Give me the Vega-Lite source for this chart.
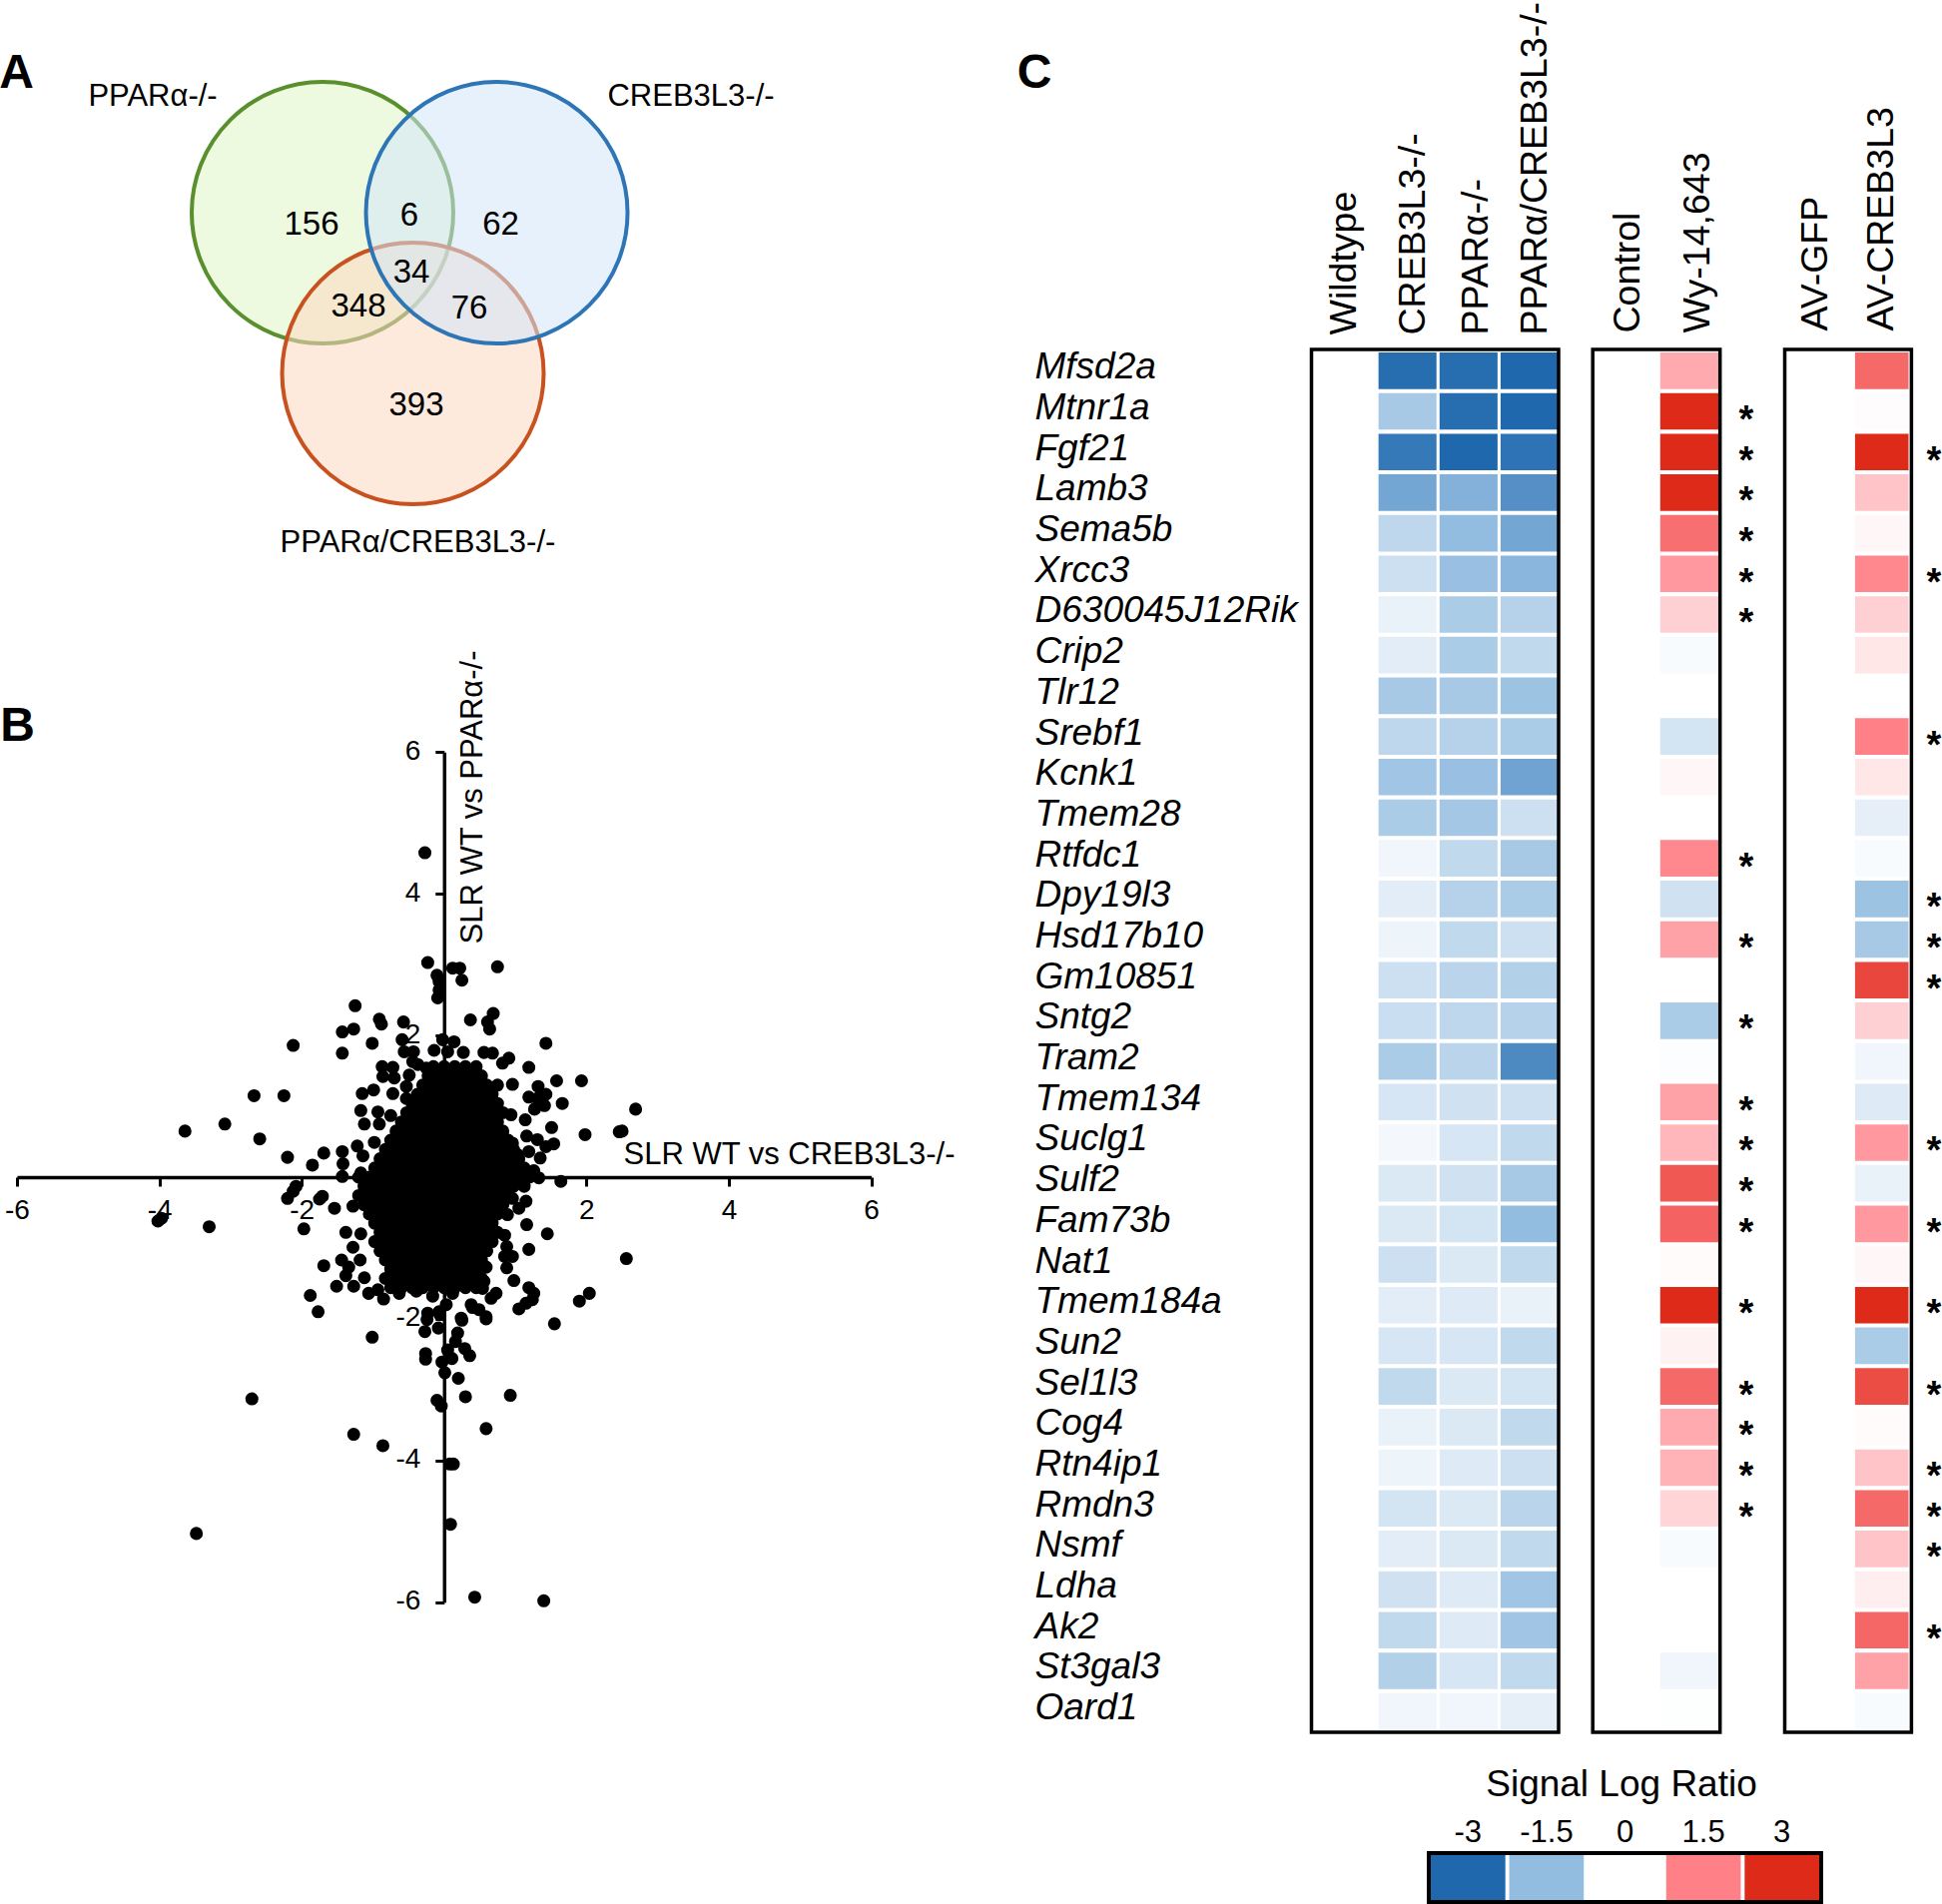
{"$schema":"https://vega.github.io/schema/vega-lite/v6.json","width":1945,"height":1907,"padding":0,"autosize":"none","background":"#ffffff","config":{"view":{"stroke":null},"font":"Liberation Sans","axis":{"grid":false,"labelColor":"#000000","titleColor":"#000000"}},
"datasets":{
"venn":[{"set":"PPARα-/-","cx":40.375,"cy":35.5},{"set":"PPARα/CREB3L3-/-","cx":51.69,"cy":62.33},{"set":"CREB3L3-/-","cx":62.19,"cy":35.5}],
"vennText":[{"t":"156","u":39,"v":37.5},{"t":"6","u":51.25,"v":36},{"t":"62","u":62.69,"v":37.5},{"t":"34","u":51.5,"v":45.5},{"t":"348","u":44.88,"v":51.17},{"t":"76","u":58.75,"v":51.5},{"t":"393","u":52.13,"v":67.67}],
"vennNames":[{"t":"PPARα-/-","u":19.13,"v":16.15},{"t":"CREB3L3-/-","u":86.5,"v":16.15},{"t":"PPARα/CREB3L3-/-","u":52.31,"v":90.7}],
"letters":[{"t":"A","u":0.85,"v":3.9},{"t":"B","u":0.9,"v":38.15},{"t":"C","u":53.27,"v":3.9}],
"scatter":[
{"creb":-0.15,"ppar":1.56},{"creb":0,"ppar":1.56},{"creb":0.15,"ppar":1.56},{"creb":0.3,"ppar":1.56},{"creb":0.45,"ppar":1.56},
{"creb":-0.225,"ppar":1.43},{"creb":-0.075,"ppar":1.43},{"creb":0.075,"ppar":1.43},{"creb":0.225,"ppar":1.43},{"creb":0.375,"ppar":1.43},{"creb":0.525,"ppar":1.43},
{"creb":-0.3,"ppar":1.3},{"creb":-0.15,"ppar":1.3},{"creb":0,"ppar":1.3},{"creb":0.15,"ppar":1.3},{"creb":0.3,"ppar":1.3},{"creb":0.45,"ppar":1.3},{"creb":0.6,"ppar":1.3},{"creb":0.75,"ppar":1.3},
{"creb":-0.375,"ppar":1.17},{"creb":-0.225,"ppar":1.17},{"creb":-0.075,"ppar":1.17},{"creb":0.075,"ppar":1.17},{"creb":0.225,"ppar":1.17},{"creb":0.375,"ppar":1.17},{"creb":0.525,"ppar":1.17},{"creb":0.675,"ppar":1.17},
{"creb":-0.45,"ppar":1.04},{"creb":-0.3,"ppar":1.04},{"creb":-0.15,"ppar":1.04},{"creb":0,"ppar":1.04},{"creb":0.15,"ppar":1.04},{"creb":0.3,"ppar":1.04},{"creb":0.45,"ppar":1.04},{"creb":0.6,"ppar":1.04},{"creb":0.75,"ppar":1.04},
{"creb":-0.525,"ppar":0.91},{"creb":-0.375,"ppar":0.91},{"creb":-0.225,"ppar":0.91},{"creb":-0.075,"ppar":0.91},{"creb":0.075,"ppar":0.91},{"creb":0.225,"ppar":0.91},{"creb":0.375,"ppar":0.91},{"creb":0.525,"ppar":0.91},{"creb":0.675,"ppar":0.91},{"creb":0.825,"ppar":0.91},
{"creb":-0.6,"ppar":0.78},{"creb":-0.45,"ppar":0.78},{"creb":-0.3,"ppar":0.78},{"creb":-0.15,"ppar":0.78},{"creb":0,"ppar":0.78},{"creb":0.15,"ppar":0.78},{"creb":0.3,"ppar":0.78},{"creb":0.45,"ppar":0.78},{"creb":0.6,"ppar":0.78},{"creb":0.75,"ppar":0.78},
{"creb":-0.675,"ppar":0.65},{"creb":-0.525,"ppar":0.65},{"creb":-0.375,"ppar":0.65},{"creb":-0.225,"ppar":0.65},{"creb":-0.075,"ppar":0.65},{"creb":0.075,"ppar":0.65},{"creb":0.225,"ppar":0.65},{"creb":0.375,"ppar":0.65},{"creb":0.525,"ppar":0.65},{"creb":0.675,"ppar":0.65},{"creb":0.825,"ppar":0.65},
{"creb":-0.75,"ppar":0.52},{"creb":-0.6,"ppar":0.52},{"creb":-0.45,"ppar":0.52},{"creb":-0.3,"ppar":0.52},{"creb":-0.15,"ppar":0.52},{"creb":0,"ppar":0.52},{"creb":0.15,"ppar":0.52},{"creb":0.3,"ppar":0.52},{"creb":0.45,"ppar":0.52},{"creb":0.6,"ppar":0.52},{"creb":0.75,"ppar":0.52},{"creb":0.9,"ppar":0.52},
{"creb":-0.825,"ppar":0.39},{"creb":-0.675,"ppar":0.39},{"creb":-0.525,"ppar":0.39},{"creb":-0.375,"ppar":0.39},{"creb":-0.225,"ppar":0.39},{"creb":-0.075,"ppar":0.39},{"creb":0.075,"ppar":0.39},{"creb":0.225,"ppar":0.39},{"creb":0.375,"ppar":0.39},{"creb":0.525,"ppar":0.39},{"creb":0.675,"ppar":0.39},{"creb":0.825,"ppar":0.39},{"creb":0.975,"ppar":0.39},
{"creb":-0.9,"ppar":0.26},{"creb":-0.75,"ppar":0.26},{"creb":-0.6,"ppar":0.26},{"creb":-0.45,"ppar":0.26},{"creb":-0.3,"ppar":0.26},{"creb":-0.15,"ppar":0.26},{"creb":0,"ppar":0.26},{"creb":0.15,"ppar":0.26},{"creb":0.3,"ppar":0.26},{"creb":0.45,"ppar":0.26},{"creb":0.6,"ppar":0.26},{"creb":0.75,"ppar":0.26},{"creb":0.9,"ppar":0.26},{"creb":1.05,"ppar":0.26},
{"creb":-0.975,"ppar":0.13},{"creb":-0.825,"ppar":0.13},{"creb":-0.675,"ppar":0.13},{"creb":-0.525,"ppar":0.13},{"creb":-0.375,"ppar":0.13},{"creb":-0.225,"ppar":0.13},{"creb":-0.075,"ppar":0.13},{"creb":0.075,"ppar":0.13},{"creb":0.225,"ppar":0.13},{"creb":0.375,"ppar":0.13},{"creb":0.525,"ppar":0.13},{"creb":0.675,"ppar":0.13},{"creb":0.825,"ppar":0.13},{"creb":0.975,"ppar":0.13},{"creb":1.125,"ppar":0.13},
{"creb":-1.2,"ppar":0},{"creb":-1.05,"ppar":0},{"creb":-0.9,"ppar":0},{"creb":-0.75,"ppar":0},{"creb":-0.6,"ppar":0},{"creb":-0.45,"ppar":0},{"creb":-0.3,"ppar":0},{"creb":-0.15,"ppar":0},{"creb":0,"ppar":0},{"creb":0.15,"ppar":0},{"creb":0.3,"ppar":0},{"creb":0.45,"ppar":0},{"creb":0.6,"ppar":0},{"creb":0.75,"ppar":0},{"creb":0.9,"ppar":0},{"creb":1.05,"ppar":0},{"creb":1.2,"ppar":0},
{"creb":-1.125,"ppar":-0.13},{"creb":-0.975,"ppar":-0.13},{"creb":-0.825,"ppar":-0.13},{"creb":-0.675,"ppar":-0.13},{"creb":-0.525,"ppar":-0.13},{"creb":-0.375,"ppar":-0.13},{"creb":-0.225,"ppar":-0.13},{"creb":-0.075,"ppar":-0.13},{"creb":0.075,"ppar":-0.13},{"creb":0.225,"ppar":-0.13},{"creb":0.375,"ppar":-0.13},{"creb":0.525,"ppar":-0.13},{"creb":0.675,"ppar":-0.13},{"creb":0.825,"ppar":-0.13},{"creb":0.975,"ppar":-0.13},{"creb":1.125,"ppar":-0.13},
{"creb":-1.2,"ppar":-0.26},{"creb":-1.05,"ppar":-0.26},{"creb":-0.9,"ppar":-0.26},{"creb":-0.75,"ppar":-0.26},{"creb":-0.6,"ppar":-0.26},{"creb":-0.45,"ppar":-0.26},{"creb":-0.3,"ppar":-0.26},{"creb":-0.15,"ppar":-0.26},{"creb":0,"ppar":-0.26},{"creb":0.15,"ppar":-0.26},{"creb":0.3,"ppar":-0.26},{"creb":0.45,"ppar":-0.26},{"creb":0.6,"ppar":-0.26},{"creb":0.75,"ppar":-0.26},{"creb":0.9,"ppar":-0.26},
{"creb":-1.125,"ppar":-0.39},{"creb":-0.975,"ppar":-0.39},{"creb":-0.825,"ppar":-0.39},{"creb":-0.675,"ppar":-0.39},{"creb":-0.525,"ppar":-0.39},{"creb":-0.375,"ppar":-0.39},{"creb":-0.225,"ppar":-0.39},{"creb":-0.075,"ppar":-0.39},{"creb":0.075,"ppar":-0.39},{"creb":0.225,"ppar":-0.39},{"creb":0.375,"ppar":-0.39},{"creb":0.525,"ppar":-0.39},{"creb":0.675,"ppar":-0.39},{"creb":0.825,"ppar":-0.39},
{"creb":-1.05,"ppar":-0.52},{"creb":-0.9,"ppar":-0.52},{"creb":-0.75,"ppar":-0.52},{"creb":-0.6,"ppar":-0.52},{"creb":-0.45,"ppar":-0.52},{"creb":-0.3,"ppar":-0.52},{"creb":-0.15,"ppar":-0.52},{"creb":0,"ppar":-0.52},{"creb":0.15,"ppar":-0.52},{"creb":0.3,"ppar":-0.52},{"creb":0.45,"ppar":-0.52},{"creb":0.6,"ppar":-0.52},{"creb":0.75,"ppar":-0.52},
{"creb":-0.975,"ppar":-0.65},{"creb":-0.825,"ppar":-0.65},{"creb":-0.675,"ppar":-0.65},{"creb":-0.525,"ppar":-0.65},{"creb":-0.375,"ppar":-0.65},{"creb":-0.225,"ppar":-0.65},{"creb":-0.075,"ppar":-0.65},{"creb":0.075,"ppar":-0.65},{"creb":0.225,"ppar":-0.65},{"creb":0.375,"ppar":-0.65},{"creb":0.525,"ppar":-0.65},{"creb":0.675,"ppar":-0.65},
{"creb":-0.9,"ppar":-0.78},{"creb":-0.75,"ppar":-0.78},{"creb":-0.6,"ppar":-0.78},{"creb":-0.45,"ppar":-0.78},{"creb":-0.3,"ppar":-0.78},{"creb":-0.15,"ppar":-0.78},{"creb":0,"ppar":-0.78},{"creb":0.15,"ppar":-0.78},{"creb":0.3,"ppar":-0.78},{"creb":0.45,"ppar":-0.78},{"creb":0.6,"ppar":-0.78},{"creb":0.75,"ppar":-0.78},
{"creb":-0.975,"ppar":-0.91},{"creb":-0.825,"ppar":-0.91},{"creb":-0.675,"ppar":-0.91},{"creb":-0.525,"ppar":-0.91},{"creb":-0.375,"ppar":-0.91},{"creb":-0.225,"ppar":-0.91},{"creb":-0.075,"ppar":-0.91},{"creb":0.075,"ppar":-0.91},{"creb":0.225,"ppar":-0.91},{"creb":0.375,"ppar":-0.91},{"creb":0.525,"ppar":-0.91},{"creb":0.675,"ppar":-0.91},
{"creb":-0.9,"ppar":-1.04},{"creb":-0.75,"ppar":-1.04},{"creb":-0.6,"ppar":-1.04},{"creb":-0.45,"ppar":-1.04},{"creb":-0.3,"ppar":-1.04},{"creb":-0.15,"ppar":-1.04},{"creb":0,"ppar":-1.04},{"creb":0.15,"ppar":-1.04},{"creb":0.3,"ppar":-1.04},{"creb":0.45,"ppar":-1.04},{"creb":0.6,"ppar":-1.04},
{"creb":-0.825,"ppar":-1.17},{"creb":-0.675,"ppar":-1.17},{"creb":-0.525,"ppar":-1.17},{"creb":-0.375,"ppar":-1.17},{"creb":-0.225,"ppar":-1.17},{"creb":-0.075,"ppar":-1.17},{"creb":0.075,"ppar":-1.17},{"creb":0.225,"ppar":-1.17},{"creb":0.375,"ppar":-1.17},{"creb":0.525,"ppar":-1.17},
{"creb":-0.75,"ppar":-1.3},{"creb":-0.6,"ppar":-1.3},{"creb":-0.45,"ppar":-1.3},{"creb":-0.3,"ppar":-1.3},{"creb":-0.15,"ppar":-1.3},{"creb":0,"ppar":-1.3},{"creb":0.15,"ppar":-1.3},{"creb":0.3,"ppar":-1.3},{"creb":0.45,"ppar":-1.3},
{"creb":-0.825,"ppar":-1.43},{"creb":-0.675,"ppar":-1.43},{"creb":-0.525,"ppar":-1.43},{"creb":-0.375,"ppar":-1.43},{"creb":-0.225,"ppar":-1.43},{"creb":-0.075,"ppar":-1.43},{"creb":0.075,"ppar":-1.43},{"creb":0.225,"ppar":-1.43},{"creb":0.375,"ppar":-1.43},{"creb":0.525,"ppar":-1.43},
{"creb":-0.75,"ppar":-1.56},{"creb":-0.6,"ppar":-1.56},{"creb":-0.45,"ppar":-1.56},{"creb":-0.3,"ppar":-1.56},{"creb":-0.15,"ppar":-1.56},{"creb":0,"ppar":-1.56},{"creb":0.15,"ppar":-1.56},{"creb":0.3,"ppar":-1.56},{"creb":0.45,"ppar":-1.56},
{"creb":-1.25,"ppar":2.42},{"creb":-0.91,"ppar":2.23},{"creb":-0.88,"ppar":2.16},{"creb":-1.27,"ppar":2.09},{"creb":-1.43,"ppar":2.05},{"creb":-1.43,"ppar":1.75},{"creb":-1.01,"ppar":1.89},{"creb":-0.57,"ppar":2.19},{"creb":-0.59,"ppar":1.94},{"creb":-0.56,"ppar":1.77},{"creb":-0.43,"ppar":1.77},{"creb":-0.44,"ppar":1.63},{"creb":-0.37,"ppar":1.59},{"creb":-0.25,"ppar":1.54},{"creb":-0.87,"ppar":1.56},{"creb":-0.72,"ppar":1.55},{"creb":-0.86,"ppar":1.42},{"creb":-0.7,"ppar":1.4},{"creb":-0.49,"ppar":1.44},{"creb":-0.53,"ppar":1.28},{"creb":-0.99,"ppar":1.23},{"creb":-1.15,"ppar":1.18},{"creb":-0.72,"ppar":1.18},{"creb":-0.53,"ppar":1.11},{"creb":-1.17,"ppar":0.94},{"creb":-0.93,"ppar":0.92},{"creb":-0.75,"ppar":0.87},{"creb":-1.12,"ppar":0.75},{"creb":-0.91,"ppar":0.75},{"creb":-1.22,"ppar":0.44},{"creb":-0.98,"ppar":0.49},{"creb":-1.69,"ppar":0.34},{"creb":-1.43,"ppar":0.36},{"creb":-1.85,"ppar":0.17},{"creb":-1.42,"ppar":0.19},{"creb":-1.14,"ppar":0.3},{"creb":-1.43,"ppar":0.01},{"creb":-1.17,"ppar":0.06},{"creb":-1.75,"ppar":-0.31},{"creb":-1.71,"ppar":-0.27},{"creb":-1.54,"ppar":-0.44},{"creb":-1.28,"ppar":-0.41},{"creb":-1.97,"ppar":-0.73},{"creb":-1.38,"ppar":-0.78},{"creb":-1.17,"ppar":-0.8},{"creb":-1.28,"ppar":-0.99},{"creb":-1.44,"ppar":-1.17},{"creb":-1.34,"ppar":-1.27},{"creb":-1.18,"ppar":-1.17},{"creb":-1.69,"ppar":-1.25},{"creb":-1.38,"ppar":-1.39},{"creb":-1.12,"ppar":-1.42},{"creb":-1.51,"ppar":-1.54},{"creb":-1.27,"ppar":-1.54},{"creb":-1.88,"ppar":-1.67},{"creb":-1.77,"ppar":-1.9},{"creb":-1.06,"ppar":-1.64},{"creb":-0.85,"ppar":-1.72},{"creb":-0.63,"ppar":-1.64},{"creb":-0.93,"ppar":-1.59},
{"creb":-0.09,"ppar":2.53},{"creb":0.37,"ppar":2.22},{"creb":0.69,"ppar":2.31},{"creb":0.61,"ppar":2.19},{"creb":0.64,"ppar":2.09},{"creb":1.43,"ppar":1.89},{"creb":-0.02,"ppar":1.94},{"creb":0.14,"ppar":1.91},{"creb":-0.14,"ppar":1.79},{"creb":0.05,"ppar":1.77},{"creb":0.27,"ppar":1.76},{"creb":0.56,"ppar":1.76},{"creb":0.68,"ppar":1.75},{"creb":0.82,"ppar":1.61},{"creb":0.91,"ppar":1.68},{"creb":1.19,"ppar":1.55},{"creb":1.58,"ppar":1.36},{"creb":1.93,"ppar":1.36},{"creb":0.96,"ppar":1.31},{"creb":1.32,"ppar":1.28},{"creb":1.43,"ppar":1.17},{"creb":1.19,"ppar":1.13},{"creb":1.31,"ppar":1.11},{"creb":1.41,"ppar":1.01},{"creb":1.27,"ppar":0.96},{"creb":1.66,"ppar":1.04},{"creb":0.94,"ppar":0.88},{"creb":1.14,"ppar":0.81},{"creb":1.51,"ppar":0.7},{"creb":1.98,"ppar":0.6},{"creb":2.46,"ppar":0.64},{"creb":1.16,"ppar":0.58},{"creb":1.31,"ppar":0.53},{"creb":1.54,"ppar":0.47},{"creb":1.43,"ppar":0.43},{"creb":1.35,"ppar":0.27},{"creb":1.19,"ppar":0.36},{"creb":1.03,"ppar":0.32},{"creb":0.96,"ppar":0.48},{"creb":1.26,"ppar":0.09},{"creb":1.33,"ppar":-0.01},{"creb":1.64,"ppar":-0.06},{"creb":1,"ppar":-0.04},{"creb":1.15,"ppar":0.08},{"creb":1.15,"ppar":-0.34},{"creb":1.05,"ppar":-0.44},{"creb":0.96,"ppar":-0.3},{"creb":0.89,"ppar":-0.53},{"creb":1.16,"ppar":-0.67},{"creb":1.45,"ppar":-0.8},{"creb":1.19,"ppar":-1.02},{"creb":0.85,"ppar":-0.82},{"creb":0.88,"ppar":-0.98},{"creb":0.96,"ppar":-1.12},{"creb":0.85,"ppar":-1.12},{"creb":0.88,"ppar":-1.28},{"creb":0.59,"ppar":-1.27},{"creb":0.98,"ppar":-1.46},{"creb":0.56,"ppar":-1.47},{"creb":1.19,"ppar":-1.56},{"creb":1.26,"ppar":-1.64},{"creb":1.24,"ppar":-1.73},{"creb":1.15,"ppar":-1.78},{"creb":1.05,"ppar":-1.86},{"creb":2.04,"ppar":-1.64},{"creb":1.9,"ppar":-1.75},{"creb":0.73,"ppar":-1.64},{"creb":0.66,"ppar":-1.71},{"creb":0.54,"ppar":-1.57},{"creb":0.38,"ppar":-1.8},{"creb":0.49,"ppar":-1.87},{"creb":0.59,"ppar":-1.97},{"creb":0.03,"ppar":-1.8},{"creb":-0.07,"ppar":-1.9},{"creb":-0.23,"ppar":-1.92},{"creb":0.24,"ppar":-1.99},{"creb":-0.39,"ppar":-1.61},{"creb":-0.16,"ppar":-1.68},{"creb":0.12,"ppar":-1.64},
{"creb":-0.27,"ppar":-2.18},{"creb":-0.24,"ppar":-2.01},{"creb":-0.08,"ppar":-2.13},{"creb":-0.06,"ppar":-1.94},{"creb":0.25,"ppar":-2.02},{"creb":0.4,"ppar":-1.84},{"creb":0.59,"ppar":-2},{"creb":1.55,"ppar":-2.07},{"creb":-1.01,"ppar":-2.26},{"creb":0.19,"ppar":-2.2},{"creb":0.16,"ppar":-2.32},{"creb":0.29,"ppar":-2.42},{"creb":0.36,"ppar":-2.52},{"creb":0.05,"ppar":-2.44},{"creb":-0.03,"ppar":-2.61},{"creb":-0.26,"ppar":-2.49},{"creb":-0.26,"ppar":-2.57},{"creb":0.11,"ppar":-2.56},{"creb":0.01,"ppar":-2.76},{"creb":0.2,"ppar":-2.84},{"creb":-0.1,"ppar":-3.15},{"creb":-0.04,"ppar":-3.23},{"creb":0.3,"ppar":-3.1},{"creb":0.93,"ppar":-3.08},{"creb":0.59,"ppar":-3.55},{"creb":-2.7,"ppar":-3.13},{"creb":-1.27,"ppar":-3.63},{"creb":-0.86,"ppar":-3.79},{"creb":0.08,"ppar":-4.05},{"creb":0.13,"ppar":-4.05},{"creb":0.09,"ppar":-4.9},{"creb":-3.48,"ppar":-5.03},{"creb":0.43,"ppar":-5.93},{"creb":1.4,"ppar":-5.98},{"creb":-3.97,"ppar":-0.58},{"creb":-4.02,"ppar":-0.62},{"creb":-3.3,"ppar":-0.7},{"creb":-2.2,"ppar":-0.3},{"creb":-2.08,"ppar":-0.13},{"creb":-2.12,"ppar":-0.2},{"creb":-2.2,"ppar":0.28},{"creb":-2.59,"ppar":0.54},{"creb":-3.08,"ppar":0.75},{"creb":-3.64,"ppar":0.65},{"creb":2.56,"ppar":-1.15},{"creb":2.69,"ppar":0.96},{"creb":2.5,"ppar":0.65},
{"creb":-0.27,"ppar":4.58},{"creb":-0.23,"ppar":3.03},{"creb":0.75,"ppar":2.97},{"creb":0.12,"ppar":2.95},{"creb":0.22,"ppar":2.95},{"creb":-0.1,"ppar":2.85},{"creb":-0.07,"ppar":2.76},{"creb":0.25,"ppar":2.78},{"creb":-0.07,"ppar":2.64},{"creb":-2.12,"ppar":1.86},{"creb":-2.67,"ppar":1.15},{"creb":-2.25,"ppar":1.15}],
"cells":[
{"gene":"Mfsd2a","sample":"CREB3L3-/-","slr":-2.9},{"gene":"Mfsd2a","sample":"PPARα-/-","slr":-2.9},{"gene":"Mfsd2a","sample":"PPARα/CREB3L3-/-","slr":-3},{"gene":"Mfsd2a","sample":"Wy-14,643","slr":1},{"gene":"Mfsd2a","sample":"AV-CREB3L3","slr":1.9},
{"gene":"Mtnr1a","sample":"CREB3L3-/-","slr":-1.2},{"gene":"Mtnr1a","sample":"PPARα-/-","slr":-2.9},{"gene":"Mtnr1a","sample":"PPARα/CREB3L3-/-","slr":-3},{"gene":"Mtnr1a","sample":"Wy-14,643","slr":3},{"gene":"Mtnr1a","sample":"AV-CREB3L3","slr":0.03},
{"gene":"Fgf21","sample":"CREB3L3-/-","slr":-2.7},{"gene":"Fgf21","sample":"PPARα-/-","slr":-3},{"gene":"Fgf21","sample":"PPARα/CREB3L3-/-","slr":-2.8},{"gene":"Fgf21","sample":"Wy-14,643","slr":3},{"gene":"Fgf21","sample":"AV-CREB3L3","slr":3},
{"gene":"Lamb3","sample":"CREB3L3-/-","slr":-1.9},{"gene":"Lamb3","sample":"PPARα-/-","slr":-1.7},{"gene":"Lamb3","sample":"PPARα/CREB3L3-/-","slr":-2.3},{"gene":"Lamb3","sample":"Wy-14,643","slr":3},{"gene":"Lamb3","sample":"AV-CREB3L3","slr":0.7},
{"gene":"Sema5b","sample":"CREB3L3-/-","slr":-0.9},{"gene":"Sema5b","sample":"PPARα-/-","slr":-1.5},{"gene":"Sema5b","sample":"PPARα/CREB3L3-/-","slr":-1.9},{"gene":"Sema5b","sample":"Wy-14,643","slr":1.8},{"gene":"Sema5b","sample":"AV-CREB3L3","slr":0.1},
{"gene":"Xrcc3","sample":"CREB3L3-/-","slr":-0.7},{"gene":"Xrcc3","sample":"PPARα-/-","slr":-1.4},{"gene":"Xrcc3","sample":"PPARα/CREB3L3-/-","slr":-1.6},{"gene":"Xrcc3","sample":"Wy-14,643","slr":1.2},{"gene":"Xrcc3","sample":"AV-CREB3L3","slr":1.4},
{"gene":"D630045J12Rik","sample":"CREB3L3-/-","slr":-0.3},{"gene":"D630045J12Rik","sample":"PPARα-/-","slr":-1.15},{"gene":"D630045J12Rik","sample":"PPARα/CREB3L3-/-","slr":-1},{"gene":"D630045J12Rik","sample":"Wy-14,643","slr":0.55},{"gene":"D630045J12Rik","sample":"AV-CREB3L3","slr":0.55},
{"gene":"Crip2","sample":"CREB3L3-/-","slr":-0.4},{"gene":"Crip2","sample":"PPARα-/-","slr":-1.15},{"gene":"Crip2","sample":"PPARα/CREB3L3-/-","slr":-0.85},{"gene":"Crip2","sample":"Wy-14,643","slr":-0.1},{"gene":"Crip2","sample":"AV-CREB3L3","slr":0.3},
{"gene":"Tlr12","sample":"CREB3L3-/-","slr":-1.2},{"gene":"Tlr12","sample":"PPARα-/-","slr":-1.2},{"gene":"Tlr12","sample":"PPARα/CREB3L3-/-","slr":-1.35},{"gene":"Tlr12","sample":"Wy-14,643","slr":0},{"gene":"Tlr12","sample":"AV-CREB3L3","slr":0},
{"gene":"Srebf1","sample":"CREB3L3-/-","slr":-0.9},{"gene":"Srebf1","sample":"PPARα-/-","slr":-1},{"gene":"Srebf1","sample":"PPARα/CREB3L3-/-","slr":-1.15},{"gene":"Srebf1","sample":"Wy-14,643","slr":-0.6},{"gene":"Srebf1","sample":"AV-CREB3L3","slr":1.5},
{"gene":"Kcnk1","sample":"CREB3L3-/-","slr":-1.3},{"gene":"Kcnk1","sample":"PPARα-/-","slr":-1.4},{"gene":"Kcnk1","sample":"PPARα/CREB3L3-/-","slr":-1.95},{"gene":"Kcnk1","sample":"Wy-14,643","slr":0.1},{"gene":"Kcnk1","sample":"AV-CREB3L3","slr":0.3},
{"gene":"Tmem28","sample":"CREB3L3-/-","slr":-1.15},{"gene":"Tmem28","sample":"PPARα-/-","slr":-1.25},{"gene":"Tmem28","sample":"PPARα/CREB3L3-/-","slr":-0.7},{"gene":"Tmem28","sample":"Wy-14,643","slr":0},{"gene":"Tmem28","sample":"AV-CREB3L3","slr":-0.35},
{"gene":"Rtfdc1","sample":"CREB3L3-/-","slr":-0.2},{"gene":"Rtfdc1","sample":"PPARα-/-","slr":-0.85},{"gene":"Rtfdc1","sample":"PPARα/CREB3L3-/-","slr":-1.2},{"gene":"Rtfdc1","sample":"Wy-14,643","slr":1.4},{"gene":"Rtfdc1","sample":"AV-CREB3L3","slr":-0.1},
{"gene":"Dpy19l3","sample":"CREB3L3-/-","slr":-0.4},{"gene":"Dpy19l3","sample":"PPARα-/-","slr":-1},{"gene":"Dpy19l3","sample":"PPARα/CREB3L3-/-","slr":-1.15},{"gene":"Dpy19l3","sample":"Wy-14,643","slr":-0.65},{"gene":"Dpy19l3","sample":"AV-CREB3L3","slr":-1.35},
{"gene":"Hsd17b10","sample":"CREB3L3-/-","slr":-0.25},{"gene":"Hsd17b10","sample":"PPARα-/-","slr":-0.85},{"gene":"Hsd17b10","sample":"PPARα/CREB3L3-/-","slr":-0.7},{"gene":"Hsd17b10","sample":"Wy-14,643","slr":1.1},{"gene":"Hsd17b10","sample":"AV-CREB3L3","slr":-1.2},
{"gene":"Gm10851","sample":"CREB3L3-/-","slr":-0.7},{"gene":"Gm10851","sample":"PPARα-/-","slr":-0.95},{"gene":"Gm10851","sample":"PPARα/CREB3L3-/-","slr":-1.05},{"gene":"Gm10851","sample":"Wy-14,643","slr":0},{"gene":"Gm10851","sample":"AV-CREB3L3","slr":2.5},
{"gene":"Sntg2","sample":"CREB3L3-/-","slr":-0.75},{"gene":"Sntg2","sample":"PPARα-/-","slr":-0.9},{"gene":"Sntg2","sample":"PPARα/CREB3L3-/-","slr":-1},{"gene":"Sntg2","sample":"Wy-14,643","slr":-1.15},{"gene":"Sntg2","sample":"AV-CREB3L3","slr":0.55},
{"gene":"Tram2","sample":"CREB3L3-/-","slr":-1.15},{"gene":"Tram2","sample":"PPARα-/-","slr":-0.95},{"gene":"Tram2","sample":"PPARα/CREB3L3-/-","slr":-2.4},{"gene":"Tram2","sample":"Wy-14,643","slr":-0.05},{"gene":"Tram2","sample":"AV-CREB3L3","slr":-0.2},
{"gene":"Tmem134","sample":"CREB3L3-/-","slr":-0.55},{"gene":"Tmem134","sample":"PPARα-/-","slr":-0.65},{"gene":"Tmem134","sample":"PPARα/CREB3L3-/-","slr":-0.7},{"gene":"Tmem134","sample":"Wy-14,643","slr":1.1},{"gene":"Tmem134","sample":"AV-CREB3L3","slr":-0.45},
{"gene":"Suclg1","sample":"CREB3L3-/-","slr":-0.15},{"gene":"Suclg1","sample":"PPARα-/-","slr":-0.55},{"gene":"Suclg1","sample":"PPARα/CREB3L3-/-","slr":-0.85},{"gene":"Suclg1","sample":"Wy-14,643","slr":0.85},{"gene":"Suclg1","sample":"AV-CREB3L3","slr":1.2},
{"gene":"Sulf2","sample":"CREB3L3-/-","slr":-0.5},{"gene":"Sulf2","sample":"PPARα-/-","slr":-0.65},{"gene":"Sulf2","sample":"PPARα/CREB3L3-/-","slr":-1.2},{"gene":"Sulf2","sample":"Wy-14,643","slr":2.2},{"gene":"Sulf2","sample":"AV-CREB3L3","slr":-0.3},
{"gene":"Fam73b","sample":"CREB3L3-/-","slr":-0.5},{"gene":"Fam73b","sample":"PPARα-/-","slr":-0.6},{"gene":"Fam73b","sample":"PPARα/CREB3L3-/-","slr":-1.5},{"gene":"Fam73b","sample":"Wy-14,643","slr":2},{"gene":"Fam73b","sample":"AV-CREB3L3","slr":1.2},
{"gene":"Nat1","sample":"CREB3L3-/-","slr":-0.7},{"gene":"Nat1","sample":"PPARα-/-","slr":-0.5},{"gene":"Nat1","sample":"PPARα/CREB3L3-/-","slr":-0.85},{"gene":"Nat1","sample":"Wy-14,643","slr":0.05},{"gene":"Nat1","sample":"AV-CREB3L3","slr":0.1},
{"gene":"Tmem184a","sample":"CREB3L3-/-","slr":-0.4},{"gene":"Tmem184a","sample":"PPARα-/-","slr":-0.45},{"gene":"Tmem184a","sample":"PPARα/CREB3L3-/-","slr":-0.3},{"gene":"Tmem184a","sample":"Wy-14,643","slr":3},{"gene":"Tmem184a","sample":"AV-CREB3L3","slr":3},
{"gene":"Sun2","sample":"CREB3L3-/-","slr":-0.55},{"gene":"Sun2","sample":"PPARα-/-","slr":-0.55},{"gene":"Sun2","sample":"PPARα/CREB3L3-/-","slr":-0.85},{"gene":"Sun2","sample":"Wy-14,643","slr":0.15},{"gene":"Sun2","sample":"AV-CREB3L3","slr":-1.15},
{"gene":"Sel1l3","sample":"CREB3L3-/-","slr":-0.85},{"gene":"Sel1l3","sample":"PPARα-/-","slr":-0.5},{"gene":"Sel1l3","sample":"PPARα/CREB3L3-/-","slr":-0.6},{"gene":"Sel1l3","sample":"Wy-14,643","slr":1.9},{"gene":"Sel1l3","sample":"AV-CREB3L3","slr":2.4},
{"gene":"Cog4","sample":"CREB3L3-/-","slr":-0.3},{"gene":"Cog4","sample":"PPARα-/-","slr":-0.5},{"gene":"Cog4","sample":"PPARα/CREB3L3-/-","slr":-0.85},{"gene":"Cog4","sample":"Wy-14,643","slr":1},{"gene":"Cog4","sample":"AV-CREB3L3","slr":0.05},
{"gene":"Rtn4ip1","sample":"CREB3L3-/-","slr":-0.25},{"gene":"Rtn4ip1","sample":"PPARα-/-","slr":-0.45},{"gene":"Rtn4ip1","sample":"PPARα/CREB3L3-/-","slr":-0.7},{"gene":"Rtn4ip1","sample":"Wy-14,643","slr":0.9},{"gene":"Rtn4ip1","sample":"AV-CREB3L3","slr":0.7},
{"gene":"Rmdn3","sample":"CREB3L3-/-","slr":-0.6},{"gene":"Rmdn3","sample":"PPARα-/-","slr":-0.5},{"gene":"Rmdn3","sample":"PPARα/CREB3L3-/-","slr":-0.95},{"gene":"Rmdn3","sample":"Wy-14,643","slr":0.5},{"gene":"Rmdn3","sample":"AV-CREB3L3","slr":1.9},
{"gene":"Nsmf","sample":"CREB3L3-/-","slr":-0.4},{"gene":"Nsmf","sample":"PPARα-/-","slr":-0.5},{"gene":"Nsmf","sample":"PPARα/CREB3L3-/-","slr":-0.85},{"gene":"Nsmf","sample":"Wy-14,643","slr":-0.1},{"gene":"Nsmf","sample":"AV-CREB3L3","slr":0.7},
{"gene":"Ldha","sample":"CREB3L3-/-","slr":-0.65},{"gene":"Ldha","sample":"PPARα-/-","slr":-0.45},{"gene":"Ldha","sample":"PPARα/CREB3L3-/-","slr":-1.3},{"gene":"Ldha","sample":"Wy-14,643","slr":0},{"gene":"Ldha","sample":"AV-CREB3L3","slr":0.2},
{"gene":"Ak2","sample":"CREB3L3-/-","slr":-0.85},{"gene":"Ak2","sample":"PPARα-/-","slr":-0.45},{"gene":"Ak2","sample":"PPARα/CREB3L3-/-","slr":-1.3},{"gene":"Ak2","sample":"Wy-14,643","slr":0},{"gene":"Ak2","sample":"AV-CREB3L3","slr":1.95},
{"gene":"St3gal3","sample":"CREB3L3-/-","slr":-1.05},{"gene":"St3gal3","sample":"PPARα-/-","slr":-0.55},{"gene":"St3gal3","sample":"PPARα/CREB3L3-/-","slr":-0.85},{"gene":"St3gal3","sample":"Wy-14,643","slr":-0.2},{"gene":"St3gal3","sample":"AV-CREB3L3","slr":1.1},
{"gene":"Oard1","sample":"CREB3L3-/-","slr":-0.2},{"gene":"Oard1","sample":"PPARα-/-","slr":-0.2},{"gene":"Oard1","sample":"PPARα/CREB3L3-/-","slr":-0.35},{"gene":"Oard1","sample":"Wy-14,643","slr":-0.03},{"gene":"Oard1","sample":"AV-CREB3L3","slr":-0.1}],
"stars":[{"gene":"Mtnr1a","sample":"Wy-14,643"},{"gene":"Fgf21","sample":"Wy-14,643"},{"gene":"Lamb3","sample":"Wy-14,643"},{"gene":"Sema5b","sample":"Wy-14,643"},{"gene":"Xrcc3","sample":"Wy-14,643"},{"gene":"D630045J12Rik","sample":"Wy-14,643"},{"gene":"Rtfdc1","sample":"Wy-14,643"},{"gene":"Hsd17b10","sample":"Wy-14,643"},{"gene":"Sntg2","sample":"Wy-14,643"},{"gene":"Tmem134","sample":"Wy-14,643"},{"gene":"Suclg1","sample":"Wy-14,643"},{"gene":"Sulf2","sample":"Wy-14,643"},{"gene":"Fam73b","sample":"Wy-14,643"},{"gene":"Tmem184a","sample":"Wy-14,643"},{"gene":"Sel1l3","sample":"Wy-14,643"},{"gene":"Cog4","sample":"Wy-14,643"},{"gene":"Rtn4ip1","sample":"Wy-14,643"},{"gene":"Rmdn3","sample":"Wy-14,643"},
{"gene":"Fgf21","sample":"AV-CREB3L3"},{"gene":"Xrcc3","sample":"AV-CREB3L3"},{"gene":"Srebf1","sample":"AV-CREB3L3"},{"gene":"Dpy19l3","sample":"AV-CREB3L3"},{"gene":"Hsd17b10","sample":"AV-CREB3L3"},{"gene":"Gm10851","sample":"AV-CREB3L3"},{"gene":"Suclg1","sample":"AV-CREB3L3"},{"gene":"Fam73b","sample":"AV-CREB3L3"},{"gene":"Tmem184a","sample":"AV-CREB3L3"},{"gene":"Sel1l3","sample":"AV-CREB3L3"},{"gene":"Rtn4ip1","sample":"AV-CREB3L3"},{"gene":"Rmdn3","sample":"AV-CREB3L3"},{"gene":"Nsmf","sample":"AV-CREB3L3"},{"gene":"Ak2","sample":"AV-CREB3L3"}],
"legendScale":[{"level":"-3","slr":-3},{"level":"-1.5","slr":-1.5},{"level":"0","slr":0},{"level":"1.5","slr":1.5},{"level":"3","slr":3}]
},
"layer":[
{"data":{"name":"venn"},"transform":[{"filter":"datum.set==='PPARα-/-'"}],"mark":{"type":"point","filled":true,"fill":"#eefadf","fillOpacity":1,"stroke":"#5a8f2e","strokeOpacity":1,"strokeWidth":4,"size":68644},"encoding":{"x":{"field":"cx","type":"quantitative","scale":{"domain":[0,100],"range":[0,800]},"axis":null},"y":{"field":"cy","type":"quantitative","scale":{"domain":[0,100],"range":[0,600]},"axis":null}}},
{"data":{"name":"venn"},"transform":[{"filter":"datum.set==='PPARα/CREB3L3-/-'"}],"mark":{"type":"point","filled":true,"fill":"#fdd7c1","fillOpacity":0.55,"stroke":"#c8521f","strokeOpacity":1,"strokeWidth":4,"size":68644},"encoding":{"x":{"field":"cx","type":"quantitative","scale":{"domain":[0,100],"range":[0,800]},"axis":null},"y":{"field":"cy","type":"quantitative","scale":{"domain":[0,100],"range":[0,600]},"axis":null}}},
{"data":{"name":"venn"},"transform":[{"filter":"datum.set==='CREB3L3-/-'"}],"mark":{"type":"point","filled":true,"fill":"#d2e6f8","fillOpacity":0.55,"stroke":"#2e75b6","strokeOpacity":1,"strokeWidth":4,"size":68644},"encoding":{"x":{"field":"cx","type":"quantitative","scale":{"domain":[0,100],"range":[0,800]},"axis":null},"y":{"field":"cy","type":"quantitative","scale":{"domain":[0,100],"range":[0,600]},"axis":null}}},
{"data":{"name":"vennText"},"mark":{"type":"text","fontSize":33,"font":"Liberation Sans","color":"#000000","align":"center","baseline":"middle"},"encoding":{"x":{"field":"u","type":"quantitative","scale":{"domain":[0,100],"range":[0,800]},"axis":null},"y":{"field":"v","type":"quantitative","scale":{"domain":[0,100],"range":[0,600]},"axis":null},"text":{"field":"t"}}},
{"data":{"name":"vennNames"},"mark":{"type":"text","fontSize":31,"font":"Liberation Sans","color":"#000000","align":"center","baseline":"middle"},"encoding":{"x":{"field":"u","type":"quantitative","scale":{"domain":[0,100],"range":[0,800]},"axis":null},"y":{"field":"v","type":"quantitative","scale":{"domain":[0,100],"range":[0,600]},"axis":null},"text":{"field":"t"}}},
{"data":{"name":"letters"},"mark":{"type":"text","fontSize":48,"fontWeight":"bold","font":"Liberation Sans","color":"#000000","align":"center","baseline":"middle"},"encoding":{"x":{"field":"u","type":"quantitative","scale":{"domain":[0,100],"range":[0,1945]},"axis":null},"y":{"field":"v","type":"quantitative","scale":{"domain":[0,100],"range":[0,1907]},"axis":null},"text":{"field":"t"}}},
{"data":{"name":"scatter"},"mark":{"type":"point","filled":true,"color":"#000000","opacity":1,"size":170},"encoding":{
"x":{"field":"creb","type":"quantitative","scale":{"domain":[-6,6],"range":[17,872.6],"nice":false,"zero":false},"axis":{"orient":"bottom","offset":-728,"values":[-6,-4,-2,2,4,6],"labelExpr":"''+datum.value","domainColor":"#000000","domainWidth":3.5,"tickColor":"#000000","tickWidth":3,"tickSize":9,"labelFontSize":28,"labelPadding":10,"labelFlush":false,"labelBound":false,"labelOverlap":false,"title":"SLR WT vs CREB3L3-/-","titleFontSize":31,"titleFontWeight":"normal","titleX":790,"titleY":-23,"titleAlign":"center","titleBaseline":"middle"}},
"y":{"field":"ppar","type":"quantitative","scale":{"domain":[-6,6],"range":[1604.7,753.3],"nice":false,"zero":false},"axis":{"orient":"left","offset":-444.8,"values":[-6,-4,-2,2,4,6],"labelExpr":"''+datum.value","domainColor":"#000000","domainWidth":3.5,"tickColor":"#000000","tickWidth":3,"tickSize":9,"labelFontSize":28,"labelPadding":15,"labelOffset":-1,"labelFlush":false,"labelBound":false,"labelOverlap":false,"title":"SLR WT vs PPARα-/-","titleFontSize":31,"titleFontWeight":"normal","titleAngle":270,"titleX":29,"titleY":798,"titleAlign":"center","titleBaseline":"middle"}}}},
{"data":{"name":"cells"},"transform":[{"filter":{"field":"sample","oneOf":["CREB3L3-/-","PPARα-/-","PPARα/CREB3L3-/-"]}}],"mark":{"type":"rect"},"encoding":{
"x":{"field":"sample","type":"nominal","scale":{"type":"band","domain":["Wildtype","CREB3L3-/-","PPARα-/-","PPARα/CREB3L3-/-"],"range":[1319.5,1561],"paddingInner":0.05,"paddingOuter":0},"axis":null},
"y":{"field":"gene","type":"nominal","sort":null,"scale":{"type":"band","range":[351,1734.5],"paddingInner":0.1,"paddingOuter":0.05},"axis":{"orient":"left","offset":-1036,"title":null,"ticks":false,"domain":false,"labelAlign":"left","labelPadding":0,"labelFontSize":37,"labelFontStyle":"italic","labelOffset":-3,"labelLimit":1000,"labelOverlap":false,"labelBound":false,"labelFlush":false}},
"color":{"field":"slr","type":"quantitative","scale":{"domain":[-3,-1.5,0,1.5,3],"range":["#1f68ae","#92bce0","#ffffff","#ff8087","#de2a18"],"interpolate":"rgb"},"legend":null}}},
{"data":{"name":"cells"},"transform":[{"filter":{"field":"sample","oneOf":["Wy-14,643"]}}],"mark":{"type":"rect"},"encoding":{
"x":{"field":"sample","type":"nominal","scale":{"type":"band","domain":["Control","Wy-14,643"],"range":[1601,1721.5],"paddingInner":0.05,"paddingOuter":0},"axis":null},
"y":{"field":"gene","type":"nominal","sort":null,"scale":{"type":"band","range":[351,1734.5],"paddingInner":0.1,"paddingOuter":0.05},"axis":null},
"color":{"field":"slr","type":"quantitative","scale":{"domain":[-3,-1.5,0,1.5,3],"range":["#1f68ae","#92bce0","#ffffff","#ff8087","#de2a18"],"interpolate":"rgb"},"legend":null}}},
{"data":{"name":"cells"},"transform":[{"filter":{"field":"sample","oneOf":["AV-CREB3L3"]}}],"mark":{"type":"rect"},"encoding":{
"x":{"field":"sample","type":"nominal","scale":{"type":"band","domain":["AV-GFP","AV-CREB3L3"],"range":[1801.5,1911.5],"paddingInner":0.05,"paddingOuter":0},"axis":null},
"y":{"field":"gene","type":"nominal","sort":null,"scale":{"type":"band","range":[351,1734.5],"paddingInner":0.1,"paddingOuter":0.05},"axis":null},
"color":{"field":"slr","type":"quantitative","scale":{"domain":[-3,-1.5,0,1.5,3],"range":["#1f68ae","#92bce0","#ffffff","#ff8087","#de2a18"],"interpolate":"rgb"},"legend":null}}},
{"data":{"values":[{"sample":"Wildtype"},{"sample":"PPARα/CREB3L3-/-"}]},"mark":{"type":"point","opacity":0},"encoding":{"x":{"field":"sample","type":"nominal","scale":{"type":"point","domain":["Wildtype","PPARα/CREB3L3-/-"],"range":[1346,1537],"padding":0},"axis":{"orient":"top","offset":-335,"title":null,"ticks":false,"domain":false,"labelAngle":270,"labelAlign":"left","labelBaseline":"middle","labelFontSize":37.5,"labelPadding":0,"labelOverlap":false,"labelFlush":false,"labelBound":false,"labelLimit":1000}}}},
{"data":{"values":[{"sample":"CREB3L3-/-"},{"sample":"PPARα-/-"}]},"mark":{"type":"point","opacity":0},"encoding":{"x":{"field":"sample","type":"nominal","scale":{"type":"point","domain":["CREB3L3-/-","PPARα-/-"],"range":[1415,1478],"padding":0},"axis":{"orient":"top","offset":-335,"title":null,"ticks":false,"domain":false,"labelAngle":270,"labelAlign":"left","labelBaseline":"middle","labelFontSize":37.5,"labelPadding":0,"labelOverlap":false,"labelFlush":false,"labelBound":false,"labelLimit":1000}}}},
{"data":{"values":[{"sample":"Control"},{"sample":"Wy-14,643"}]},"mark":{"type":"point","opacity":0},"encoding":{"x":{"field":"sample","type":"nominal","scale":{"type":"point","domain":["Control","Wy-14,643"],"range":[1630,1700],"padding":0},"axis":{"orient":"top","offset":-333,"title":null,"ticks":false,"domain":false,"labelAngle":270,"labelAlign":"left","labelBaseline":"middle","labelFontSize":37.5,"labelPadding":0,"labelOverlap":false,"labelFlush":false,"labelBound":false,"labelLimit":1000}}}},
{"data":{"values":[{"sample":"AV-GFP"},{"sample":"AV-CREB3L3"}]},"mark":{"type":"point","opacity":0},"encoding":{"x":{"field":"sample","type":"nominal","scale":{"type":"point","domain":["AV-GFP","AV-CREB3L3"],"range":[1818,1884],"padding":0},"axis":{"orient":"top","offset":-331,"title":null,"ticks":false,"domain":false,"labelAngle":270,"labelAlign":"left","labelBaseline":"middle","labelFontSize":37.5,"labelPadding":0,"labelOverlap":false,"labelFlush":false,"labelBound":false,"labelLimit":1000}}}},
{"data":{"values":[{}]},"mark":{"type":"rect","filled":false,"stroke":"#000000","strokeWidth":3.5},"encoding":{"x":{"datum":0,"type":"quantitative","scale":{"domain":[0,1],"range":[1313.5,1561]},"axis":null},"x2":{"datum":1},"y":{"datum":0,"type":"quantitative","scale":{"domain":[0,1],"range":[350,1735]},"axis":null},"y2":{"datum":1}}},
{"data":{"values":[{}]},"mark":{"type":"rect","filled":false,"stroke":"#000000","strokeWidth":3.5},"encoding":{"x":{"datum":0,"type":"quantitative","scale":{"domain":[0,1],"range":[1595.2,1722.7]},"axis":null},"x2":{"datum":1},"y":{"datum":0,"type":"quantitative","scale":{"domain":[0,1],"range":[350,1735]},"axis":null},"y2":{"datum":1}}},
{"data":{"values":[{}]},"mark":{"type":"rect","filled":false,"stroke":"#000000","strokeWidth":3.5},"encoding":{"x":{"datum":0,"type":"quantitative","scale":{"domain":[0,1],"range":[1787.5,1914.4]},"axis":null},"x2":{"datum":1},"y":{"datum":0,"type":"quantitative","scale":{"domain":[0,1],"range":[350,1735]},"axis":null},"y2":{"datum":1}}},
{"data":{"name":"stars"},"mark":{"type":"text","text":"*","fontSize":38,"fontWeight":"bold","font":"Liberation Sans","color":"#000000","align":"center","baseline":"middle","dy":10},"encoding":{
"x":{"field":"sample","type":"nominal","scale":{"type":"point","domain":["Wy-14,643","AV-CREB3L3"],"range":[1749,1937],"padding":0},"axis":null},
"y":{"field":"gene","type":"nominal","scale":{"type":"band","domain":["Mfsd2a","Mtnr1a","Fgf21","Lamb3","Sema5b","Xrcc3","D630045J12Rik","Crip2","Tlr12","Srebf1","Kcnk1","Tmem28","Rtfdc1","Dpy19l3","Hsd17b10","Gm10851","Sntg2","Tram2","Tmem134","Suclg1","Sulf2","Fam73b","Nat1","Tmem184a","Sun2","Sel1l3","Cog4","Rtn4ip1","Rmdn3","Nsmf","Ldha","Ak2","St3gal3","Oard1"],"range":[351,1734.5],"paddingInner":0.1,"paddingOuter":0.05},"axis":null}}},
{"data":{"name":"legendScale"},"mark":{"type":"rect"},"encoding":{
"x":{"field":"level","type":"nominal","sort":null,"scale":{"type":"band","range":[1433,1822],"paddingInner":0.05,"paddingOuter":0},"axis":{"orient":"top","offset":-1844,"ticks":false,"domain":false,"labelAngle":0,"labelFontSize":31,"labelBaseline":"alphabetic","labelPadding":0,"labelOverlap":false,"labelFlush":false,"labelBound":false,"title":"Signal Log Ratio","titleFontSize":37,"titleFontWeight":"normal","titleX":1623.5,"titleY":-46,"titleAlign":"center","titleBaseline":"alphabetic"}},
"y":{"datum":0,"type":"quantitative","scale":{"domain":[0,1],"range":[1858,1904]},"axis":null},"y2":{"datum":1},
"color":{"field":"slr","type":"quantitative","scale":{"domain":[-3,-1.5,0,1.5,3],"range":["#1f68ae","#92bce0","#ffffff","#ff8087","#de2a18"],"interpolate":"rgb"},"legend":null}}},
{"data":{"values":[{}]},"mark":{"type":"rect","filled":false,"stroke":"#000000","strokeWidth":4},"encoding":{"x":{"datum":0,"type":"quantitative","scale":{"domain":[0,1],"range":[1431,1824]},"axis":null},"x2":{"datum":1},"y":{"datum":0,"type":"quantitative","scale":{"domain":[0,1],"range":[1856,1905]},"axis":null},"y2":{"datum":1}}}
],
"resolve":{"scale":{"x":"independent","y":"independent","color":"independent"},"axis":{"x":"independent","y":"independent"}}}
